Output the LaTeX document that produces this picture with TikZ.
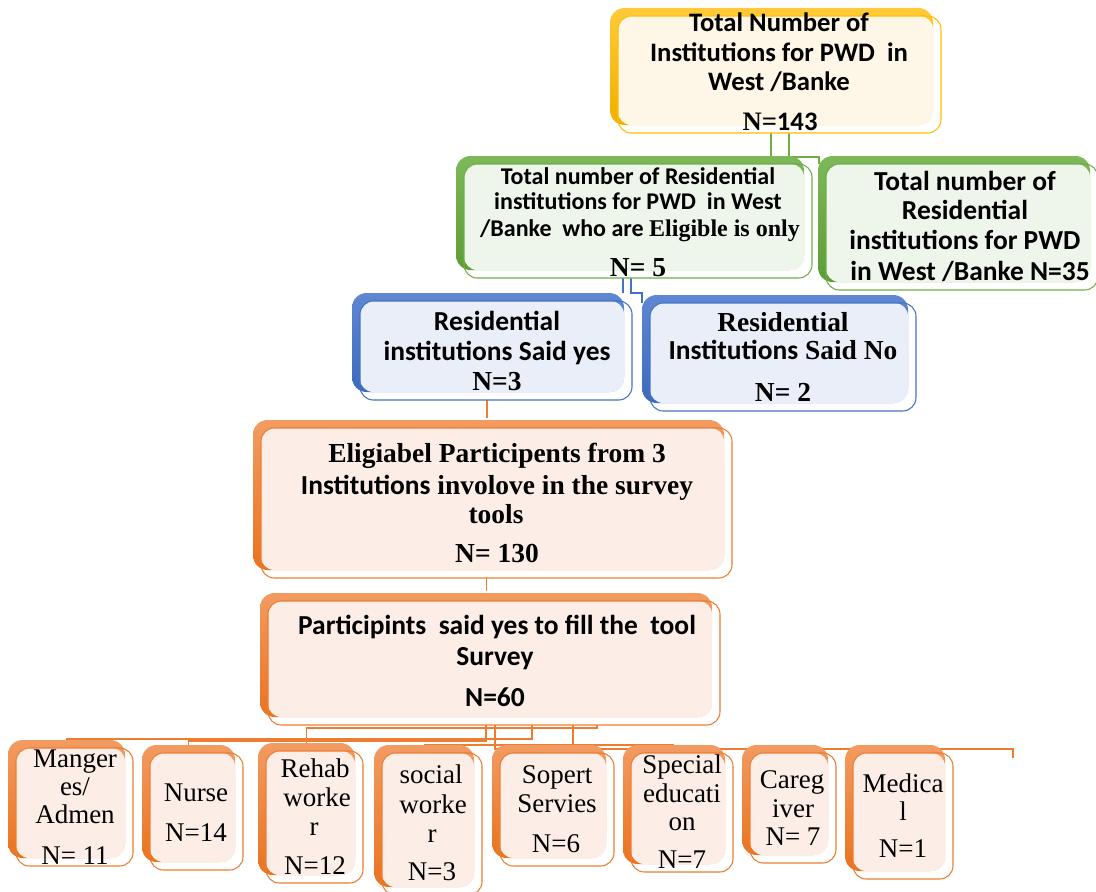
\documentclass[tikz,border=0pt]{standalone}
\usepackage{fontspec}
\setmainfont{Liberation Serif}
\newfontfamily\calib{Carlito}
\usetikzlibrary{fit,backgrounds}

% palettes: hi/lo = shaded tab, bg = card fill, ln = card outline
\definecolor{yhi}{HTML}{FFC93A}\definecolor{ylo}{HTML}{F0B000}\definecolor{ybg}{HTML}{FEF6E6}\definecolor{yln}{HTML}{FFC000}
\definecolor{ghi}{HTML}{7DB958}\definecolor{glo}{HTML}{5E9C36}\definecolor{gbg}{HTML}{EEF5EA}\definecolor{gln}{HTML}{70AD47}
\definecolor{bhi}{HTML}{5F87D3}\definecolor{blo}{HTML}{3E69BC}\definecolor{bbg}{HTML}{E9EEF8}\definecolor{bln}{HTML}{4472C4}
\definecolor{ohi}{HTML}{F29B62}\definecolor{olo}{HTML}{EA731F}\definecolor{obg}{HTML}{FCEEE6}\definecolor{oln}{HTML}{ED7D31}

\newcommand\sbf{\calib\bfseries}
\newcommand\tbf{\rmfamily\bfseries}

% tab card: name, palette, back box x0 y0 x1 y1 (pixel units, y downwards)
\newcommand\tabbox[6]{%
  \fill[white, rounded corners=10] (#3+8,#4+8) rectangle (#5+8,#6+8);
  \shade[top color=#2hi, bottom color=#2lo, rounded corners=11] (#3,#4) rectangle (#5,#6);
  \fill[#2bg, rounded corners=10] (#3+8,#4+8) rectangle (#5,#6);
  \node[draw=#2ln, line width=0.8pt, rounded corners=10, inner sep=0pt, outer sep=0pt,
        fit={(#3+8,#4+8) (#5+8,#6+8)}] (#1) {};
}

\tikzset{
  txt/.style={anchor=base, inner sep=0pt, align=center},
  sA/.style={txt, font=\sbf\fontsize{20}{24}\selectfont},
  sB/.style={txt, font=\sbf\fontsize{18}{22}\selectfont},
  sC/.style={txt, font=\sbf\fontsize{20.6}{24}\selectfont},
  tL/.style={txt, font=\tbf\fontsize{20.6}{24}\selectfont},
  sL/.style={txt, font=\sbf\fontsize{20.6}{24}\selectfont},
  sG/.style={txt, font=\sbf\fontsize{20.6}{24}\selectfont},
  rS/.style={txt, font=\rmfamily\fontsize{20.25}{24}\selectfont},
  gline/.style={draw=gln, line width=0.9pt},
  bline/.style={draw=bln, line width=0.9pt},
  oline/.style={draw=oln, line width=0.9pt},
}

\begin{document}
\begin{tikzpicture}[x=0.75pt,y=-0.75pt]
\useasboundingbox (0,0) rectangle (1096,892);

% ---------- cards ----------
\tabbox{A}{y}{610}{8}{933}{125}
\tabbox{B}{g}{456}{156}{804}{270}
\tabbox{C}{g}{818}{156}{1090}{282}
\tabbox{D}{b}{352}{293}{624}{392}
\tabbox{E}{b}{642}{295}{908}{403}
\tabbox{F}{o}{253}{420}{724}{570}
\tabbox{G}{o}{260}{593}{712}{717}
\tabbox{m1}{o}{8}{740}{125}{858}
\tabbox{m2}{o}{142}{745}{235}{862}
\tabbox{m3}{o}{258}{743}{355}{875}
\tabbox{m4}{o}{374}{745}{474}{887}
\tabbox{m5}{o}{492}{745}{606}{858}
\tabbox{m6}{o}{623}{745}{725}{864}
\tabbox{m7}{o}{742}{745}{828}{855}
\tabbox{m8}{o}{845}{745}{945}{871}

% ---------- connectors (behind the cards) ----------
\begin{scope}[on background layer]
\coordinate (a1) at ([shift={(-8.5,0)}]A.south);
\coordinate (a2) at ([shift={(9.5,0)}]A.south);
\draw[gline] (a1) -- (a1 |- B.north);
\draw[gline] (a2) -- ++(0,24) -| ([shift={(-7,0)}]C.north west);

\coordinate (b1) at ([shift={(-15,0)}]B.south);
\coordinate (b2) at ([shift={(-7,0)}]B.south);
\draw[bline] (b1) -- ++(0,15);
\draw[bline] (b2) -- ++(0,15) -| ([shift={(-8,0)}]E.north west);

\coordinate (d1) at ([shift={(-9,0)}]D.south);
\draw[oline] (d1) -- ++(0,18);
\coordinate (f1) at ([shift={(-10,0)}]F.south);
\draw[oline] (f1) -- ++(0,13);

\coordinate (g1) at ([shift={(-8,0)}]G.south);
\coordinate (g2) at ([shift={(1,0)}]G.south);
\coordinate (g3) at ([shift={(38,0)}]G.south);
\coordinate (g4) at ([shift={(79,0)}]G.south);
\coordinate (g5) at ([shift={(103,0)}]G.south);
\coordinate (tail) at (1013,758);
\draw[oline] (g3) -- ++(0,14) -| ([shift={(-8,-8)}]m1.north);
\draw[oline] (g1) -- ++(0,16) -| ([shift={(-8,-8)}]m2.north);
\draw[oline] (g5) -- ++(0,3) -| ([shift={(-8,-8)}]m3.north);
\draw[oline] (g4) -- ++(0,20) -| ([shift={(-8,-8)}]m4.north);
\draw[oline] (g2) -- ++(0,20) -| ([shift={(-8,-8)}]m5.north);
\draw[oline] (g4) -- ++(0,20) -| ([shift={(-8,-8)}]m6.north);
\draw[oline] (g2) -- ++(0,24) -| ([shift={(-8,-8)}]m7.north);
\draw[oline] (g2) -- ++(0,24) -| (tail);
\end{scope}

% ---------- texts ----------
\node[sA] (tA1) at (779,32) {Total Number of};
\node[sA] (tA2) at (779,62) {Institutions for PWD\ \ in};
\node[sA] (tA3) at (779,91) {West /Banke};
\node[sA] (tA4) at (780,131) {{\tbf N=}143};

\node[sB] (tB1) at (638,184) {Total number of Residential};
\node[sB] (tB2) at (638,209) {institutions for PWD\ \ in West};
\node[sB] (tB3) at (640,236) {/Banke\ \ who are {\tbf Eligible is only}};
\node[tL] (tB4) at (638,276) {N= 5};

\node[sC] (tC1) at (965,190) {Total number of};
\node[sC] (tC2) at (965,219) {Residential};
\node[sC] (tC3) at (965,249) {institutions for PWD};
\node[sC] (tC4) at (970,280) {in West /Banke N=35};

\node[sL] (tD1) at (497,330) {Residential};
\node[sL] (tD2) at (497,360) {institutions Said yes};
\node[tL] (tD3) at (497,390) {N=3};

\node[tL] (tE1) at (783,331) {Residential};
\node[tL] (tE2) at (783,359) {{\sbf Institutions} Said No};
\node[tL] (tE3) at (783,401) {N= 2};

\node[tL] (tF1) at (497,462) {Eligiabel Participents from 3};
\node[tL] (tF2) at (497,494) {{\sbf Institutions} involove in the survey};
\node[tL] (tF3) at (496,523) {tools};
\node[tL] (tF4) at (497,562) {N= 130};

\node[sG] (tG1) at (497,634) {Participints\ \ said yes to fill the\ \ tool};
\node[sG] (tG2) at (495,665) {Survey};
\node[sG] (tG3) at (495,706) {N=60};

\node[rS] (t11) at (75,767) {Manger};
\node[rS] (t12) at (75,795) {es/};
\node[rS] (t13) at (75,823) {Admen};
\node[rS] (t14) at (75,864) {N= 11};

\node[rS] (t21) at (196,801) {Nurse};
\node[rS] (t22) at (196,841) {N=14};

\node[rS] (t31) at (315,777) {Rehab};
\node[rS] (t32) at (317,806) {worke};
\node[rS] (t33) at (314,835) {r};
\node[rS] (t34) at (315,874) {N=12};

\node[rS] (t41) at (431,783) {social};
\node[rS] (t42) at (433,813) {worke};
\node[rS] (t43) at (432,842) {r};
\node[rS] (t44) at (432,880) {N=3};

\node[rS] (t51) at (557,783) {Sopert};
\node[rS] (t52) at (557,812) {Servies};
\node[rS] (t53) at (556,852) {N=6};

\node[rS] (t61) at (682,773) {Special};
\node[rS] (t62) at (682,802) {educati};
\node[rS] (t63) at (682,830) {on};
\node[rS] (t64) at (682,868) {N=7};

\node[rS] (t71) at (792,788) {Careg};
\node[rS] (t72) at (793,817) {iver};
\node[rS] (t73) at (793,845) {N= 7};

\node[rS] (t81) at (903,792) {Medica};
\node[rS] (t82) at (903,820) {l};
\node[rS] (t83) at (903,857) {N=1};
\end{tikzpicture}
\end{document}
